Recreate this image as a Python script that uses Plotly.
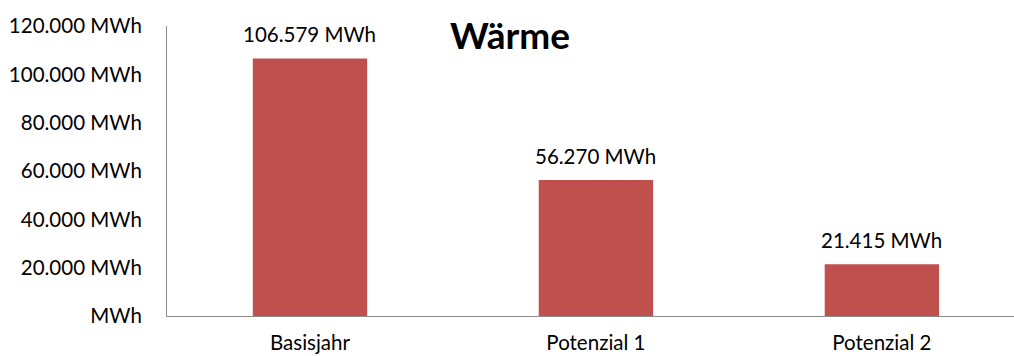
import plotly.graph_objects as go

categories = ["Basisjahr", "Potenzial 1", "Potenzial 2"]
waerme_mwh = [106579, 56270, 21415]
y_tick_values = [0, 20000, 40000, 60000, 80000, 100000, 120000]
y_tick_labels = ["MWh", "20.000 MWh", "40.000 MWh", "60.000 MWh",
                 "80.000 MWh", "100.000 MWh", "120.000 MWh"]


def fmt_mwh(v):
    return f"{v:,}".replace(",", ".") + " MWh"


FONT = "Lato"
BAR_COLOR = "#C0504D"
AXIS_COLOR = "#8C8C8C"
TXT = 20.5

fig = go.Figure(
    go.Bar(
        x=categories,
        y=waerme_mwh,
        marker=dict(color=BAR_COLOR, line=dict(width=0)),
        width=0.4,
        hoverinfo="skip",
    )
)

# value labels above each bar
for cat, val in zip(categories, waerme_mwh):
    fig.add_annotation(
        x=cat, y=val, text=fmt_mwh(val), showarrow=False,
        yanchor="bottom", yshift=10,
        font=dict(family=FONT, size=TXT, color="#000000"),
    )

fig.update_layout(
    width=1014, height=356,
    margin=dict(l=167, r=0, t=26, b=40),
    paper_bgcolor="white", plot_bgcolor="white",
    showlegend=False,
    title=dict(
        text="<b>Wärme</b>", x=510 / 1014, xanchor="center",
        y=1 - 36 / 356, yanchor="middle",
        font=dict(family=FONT, size=37, color="#000000"),
    ),
    font=dict(family=FONT, size=TXT, color="#000000"),
)

fig.update_yaxes(
    range=[0, 120000], automargin=False,
    tickvals=y_tick_values, ticktext=y_tick_labels,
    showgrid=False, zeroline=False,
    showline=True, linecolor=AXIS_COLOR, linewidth=1,
    ticks="", ticklabelstandoff=20,
    tickfont=dict(family=FONT, size=TXT, color="#000000"),
)
fig.update_xaxes(
    range=[-0.5, 2.462], automargin=False,
    showgrid=False, zeroline=False,
    showline=True, linecolor=AXIS_COLOR, linewidth=1,
    ticks="", ticklabelstandoff=8,
    tickfont=dict(family=FONT, size=TXT, color="#000000"),
)

fig.write_html("out.html")
